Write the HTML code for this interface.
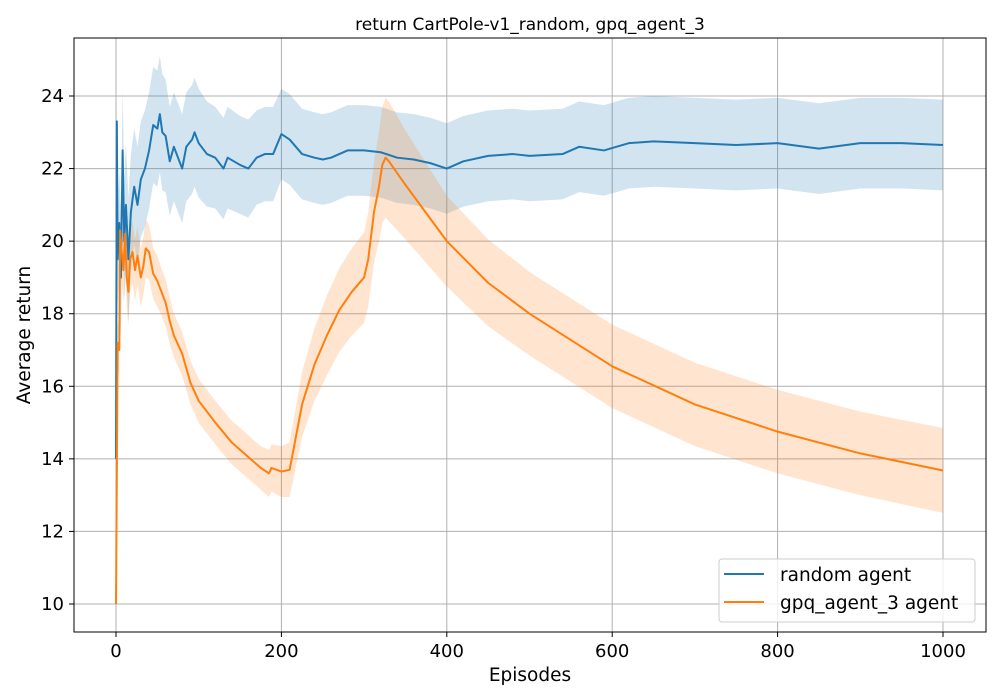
<!DOCTYPE html>
<html><head><meta charset="utf-8"><style>
html,body{margin:0;padding:0;background:#fff;}
svg{display:block;font-family:"DejaVu Sans","Liberation Sans",sans-serif;}
</style></head><body>
<svg id="chart" width="1000" height="700" viewBox="0 0 1000 700">
<text x="530" y="30" font-size="17" text-anchor="middle">return CartPole-v1_random, gpq_agent_3</text>
<g id="grid"></g>
<g id="bands"></g>
<g id="lines"></g>
<rect x="74" y="38" width="912" height="594" fill="none" stroke="#000" stroke-width="1"/>
<g id="ticks"></g>
<text x="530" y="681" font-size="18.5" text-anchor="middle">Episodes</text>
<text transform="translate(30,335) rotate(-90)" font-size="18.5" text-anchor="middle">Average return</text>
<g>
<rect x="719" y="559" width="256" height="63" rx="3" fill="#fff" fill-opacity="0.8" stroke="#ccc"/>
<line x1="724" y1="574" x2="764" y2="574" stroke="#1f77b4" stroke-width="2"/>
<text x="780" y="581" font-size="18.5">random agent</text>
<line x1="724" y1="602" x2="764" y2="602" stroke="#ff7f0e" stroke-width="2"/>
<text x="780" y="609" font-size="18.5">gpq_agent_3 agent</text>
</g>
</svg>
<script>
const xTicks=[0,200,400,600,800,1000];
const yTicks=[10,12,14,16,18,20,22,24];
const randomEp=[0,1,2,4,6,8,10,12,15,18,22,26,30,35,40,45,50,53,56,60,65,70,75,80,85,92,95,100,110,120,130,135,150,160,170,180,190,200,210,225,240,250,260,270,280,300,320,340,360,380,400,420,450,480,500,540,560,590,620,650,700,750,800,850,900,950,1000];
const randomMean=[14,23.3,19.5,20.5,19,22.5,20,21,19.5,20.8,21.5,21,21.7,22,22.5,23.2,23.1,23.5,23,22.9,22.2,22.6,22.3,22,22.6,22.8,23.0,22.7,22.4,22.3,22.0,22.3,22.1,22.0,22.3,22.4,22.4,22.95,22.8,22.4,22.3,22.25,22.3,22.4,22.5,22.5,22.45,22.3,22.25,22.15,22.0,22.2,22.35,22.4,22.35,22.4,22.6,22.5,22.7,22.75,22.7,22.65,22.7,22.55,22.7,22.7,22.65];
const randomStd=[0,0.5,1.2,1.5,1.7,1.7,1.7,1.7,1.7,1.6,1.6,1.6,1.6,1.6,1.6,1.6,1.6,1.6,1.6,1.55,1.5,1.5,1.5,1.5,1.5,1.5,1.5,1.5,1.45,1.4,1.4,1.4,1.35,1.35,1.3,1.3,1.3,1.25,1.25,1.25,1.25,1.25,1.25,1.25,1.25,1.25,1.25,1.25,1.25,1.25,1.25,1.25,1.25,1.25,1.25,1.25,1.25,1.25,1.25,1.25,1.25,1.25,1.25,1.25,1.25,1.25,1.25];
const gpqEp=[0,2,4,5,7,9,11,13,15,17,20,23,26,30,33,36,40,45,50,55,60,65,70,80,90,100,120,140,160,175,185,188,200,210,215,225,240,255,270,285,300,305,312,318,322,326,330,350,400,450,500,600,700,800,900,1000];
const gpqMean=[10,17.2,17,20.3,19.7,19.2,20.2,19,18.6,19.5,19.7,19.2,19.6,19.0,19.3,19.8,19.7,19.1,18.9,18.6,18.3,17.8,17.4,16.9,16.1,15.6,15.0,14.45,14.05,13.75,13.6,13.75,13.65,13.7,14.3,15.5,16.6,17.4,18.1,18.6,19.0,19.5,20.8,21.5,22.1,22.3,22.2,21.55,20.0,18.85,18.0,16.55,15.5,14.75,14.15,13.68];
const gpqStd=[0,0.5,0.8,0.9,0.9,0.9,0.9,0.9,0.9,0.9,0.85,0.85,0.8,0.8,0.8,0.8,0.75,0.7,0.7,0.65,0.65,0.65,0.6,0.6,0.6,0.6,0.6,0.6,0.6,0.6,0.65,0.65,0.7,0.75,0.8,0.9,1.0,1.1,1.15,1.2,1.25,1.3,1.4,1.5,1.6,1.65,1.65,1.5,1.25,1.2,1.15,1.15,1.15,1.15,1.15,1.17];
const NS="http://www.w3.org/2000/svg";
function sx(v){return 116+(v-0)*(943-116)/1000;}
function sy(v){return 604-(v-10)*(604-96)/14;}
function mk(tag,attrs,parent){const e=document.createElementNS(NS,tag);for(const k in attrs)e.setAttribute(k,attrs[k]);parent.appendChild(e);return e;}
const grid=document.getElementById('grid'),ticks=document.getElementById('ticks');
xTicks.forEach(t=>{
 const g=mk('line',{x1:sx(t),x2:sx(t),y1:38,y2:632,stroke:'#b0b0b0','stroke-width':1},grid);
 
 
 const tk=mk('line',{x1:sx(t),x2:sx(t),y1:632,y2:637,stroke:'#000'},ticks);
 
 
 const l=mk('text',{x:sx(t),y:657,'font-size':18,'text-anchor':'middle'},ticks);
 l.textContent=t;
 
 
});
yTicks.forEach(t=>{
 const g=mk('line',{x1:74,x2:986,y1:sy(t),y2:sy(t),stroke:'#b0b0b0','stroke-width':1},grid);
 
 
 const tk=mk('line',{x1:69,x2:74,y1:sy(t),y2:sy(t),stroke:'#000'},ticks);
 
 
 const l=mk('text',{x:64,y:sy(t)+6,'font-size':18,'text-anchor':'end'},ticks);
 l.textContent=t;
 
 
});
function band(ep,m,s,color,name){
 let up=ep.map((e,i)=>sx(e)+','+sy(m[i]+s[i]));
 let dn=ep.map((e,i)=>sx(e)+','+sy(m[i]-s[i])).reverse();
 const p=mk('polygon',{points:up.concat(dn).join(' '),fill:color,'fill-opacity':0.2,stroke:'none'},document.getElementById('bands'));
 
 
}
function line(ep,m,color,name){
 const p=mk('polyline',{points:ep.map((e,i)=>sx(e)+','+sy(m[i])).join(' '),fill:'none',stroke:color,'stroke-width':2,'stroke-linejoin':'round'},document.getElementById('lines'));
 
 
}
band(randomEp,randomMean,randomStd,'#1f77b4','random-agent-band');
band(gpqEp,gpqMean,gpqStd,'#ff7f0e','gpq-agent-band');
line(randomEp,randomMean,'#1f77b4','random-agent-line');
line(gpqEp,gpqMean,'#ff7f0e','gpq-agent-line');
</script>
</body></html>
